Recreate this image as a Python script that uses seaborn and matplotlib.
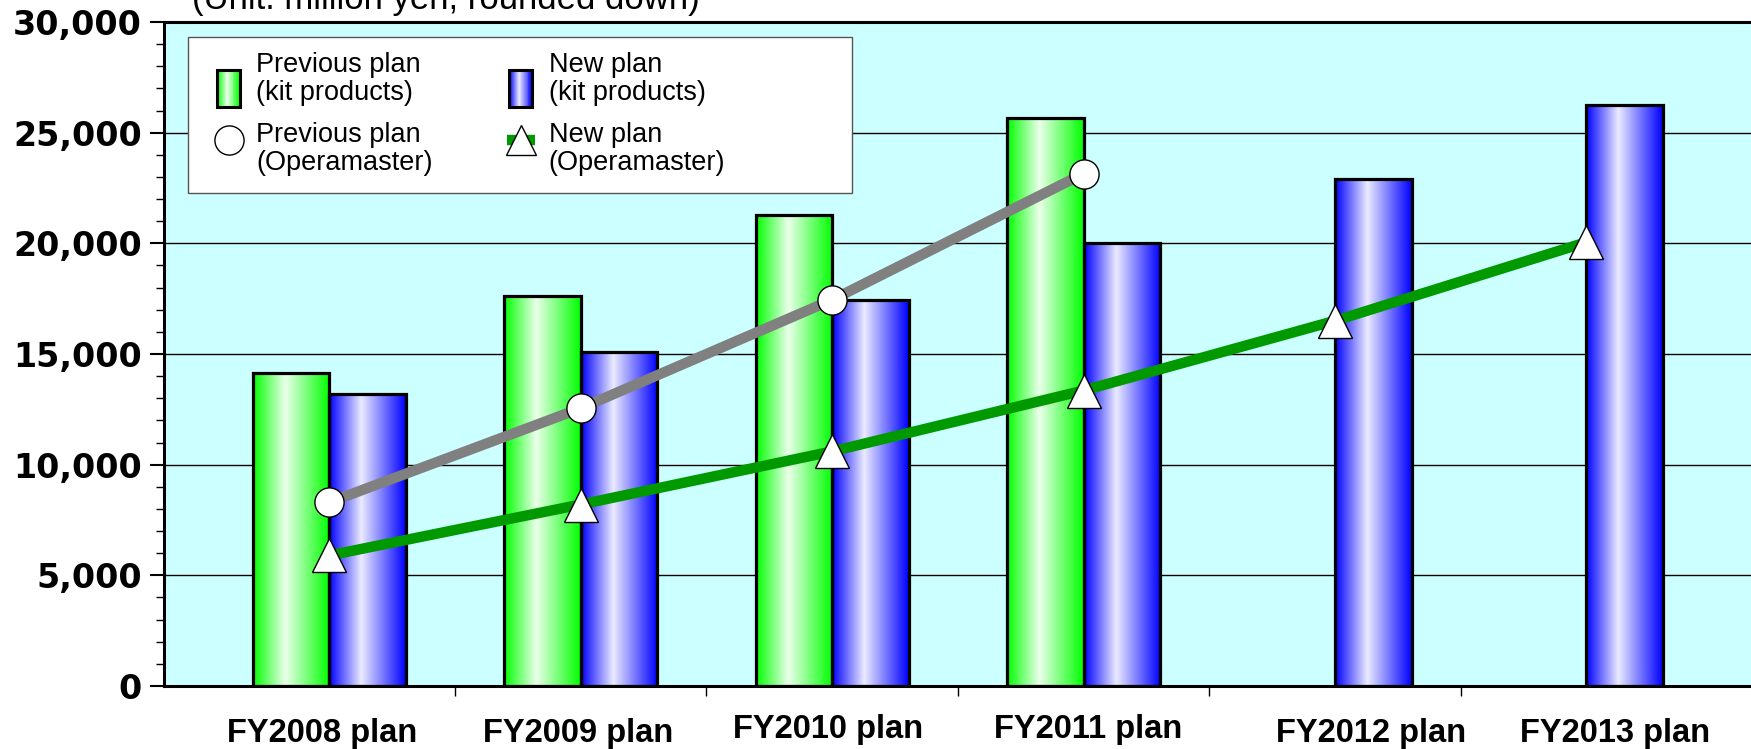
import numpy as np
import pandas as pd
import matplotlib
matplotlib.use("Agg")
import matplotlib.pyplot as plt
from matplotlib import font_manager
from matplotlib.patches import Rectangle
from matplotlib.lines import Line2D
from matplotlib.legend_handler import HandlerBase, HandlerLine2D
from matplotlib.ticker import MultipleLocator, FuncFormatter, FixedLocator
import seaborn as sns

# ---- data (million yen) ----
categories = ["FY2008 plan", "FY2009 plan", "FY2010 plan",
              "FY2011 plan", "FY2012 plan", "FY2013 plan"]
prev_kit = [14150, 17600, 21300, 25650]
new_kit = [13200, 15100, 17450, 20000, 22900, 26250]
prev_opera = [8300, 12550, 17450, 23150]
new_opera = [5900, 8200, 10600, 13350, 16500, 20050]

label_prev_kit = "Previous plan\n(kit products)"
label_new_kit = "New plan\n(kit products)"
label_prev_opera = "Previous plan\n(Operamaster)"
label_new_opera = "New plan\n(Operamaster)"
unit_note = "(Unit: million yen, rounded down)"

GREEN = "#00ff00"
BLUE = "#0000ff"
GREY_LINE = "#808080"
GREEN_LINE = "#009900"
BG = "#ccffff"

sns.set_theme(style="white")
installed = {f.name for f in font_manager.fontManager.ttflist}
SANS = next((n for n in ["Liberation Sans Narrow", "Liberation Sans"] if n in installed),
            "DejaVu Sans")
plt.rcParams["font.family"] = ["DejaVu Sans"]
plt.rcParams["text.color"] = "black"
plt.rcParams["xtick.color"] = "black"
plt.rcParams["ytick.color"] = "black"
plt.rcParams["xtick.labelcolor"] = "black"
plt.rcParams["ytick.labelcolor"] = "black"

bars = pd.concat([
    pd.DataFrame({"category": categories[:len(prev_kit)], "plan": "Previous", "value": prev_kit}),
    pd.DataFrame({"category": categories, "plan": "New", "value": new_kit}),
], ignore_index=True)

fig = plt.figure(figsize=(17.51, 7.49), dpi=100)
ax = fig.add_axes([164 / 1751, 1 - 686 / 749, 1 - 164 / 1751, (686 - 22) / 749])
ax.set_facecolor(BG)

sns.barplot(data=bars, x="category", y="value", hue="plan",
            order=categories, hue_order=["Previous", "New"],
            palette={"Previous": GREEN, "New": BLUE},
            width=0.61, gap=0, dodge=True, legend=False,
            edgecolor="black", linewidth=2.3, errorbar=None, ax=ax, zorder=2)


def shade(base, n=256, peak=0.42, top=0.92):
    """Cylinder-like shading: saturated edges, bright highlight left of centre."""
    t = np.linspace(0, 1, n)
    w = np.where(t < peak, t / peak, (1 - t) / (1 - peak)) * top
    base = np.array(matplotlib.colors.to_rgb(base))
    rgb = base[None, :] * (1 - w[:, None]) + w[:, None]
    return rgb[None, :, :]


for container, base in zip(ax.containers, [GREEN, BLUE]):
    img = shade(base)
    for patch in container.patches:
        h = patch.get_height()
        if not np.isfinite(h) or h == 0:
            continue
        x0, w = patch.get_x(), patch.get_width()
        im = ax.imshow(img, extent=[x0, x0 + w, 0, h], aspect="auto",
                       origin="lower", zorder=1.9, interpolation="bilinear")
        im.set_clip_path(patch)
        patch.set_facecolor("none")

line_kw = dict(markerfacecolor="white", markeredgecolor="black",
               markeredgewidth=1.0, errorbar=None)
sns.pointplot(x=categories[:len(prev_opera)], y=prev_opera, order=categories,
              color=GREY_LINE, markers="o", linewidth=7.5, markersize=21,
              ax=ax, zorder=3, **line_kw)
sns.pointplot(x=categories, y=new_opera, order=categories,
              color=GREEN_LINE, markers="^", linewidth=7.5, markersize=24,
              ax=ax, zorder=3, **line_kw)

# ---- axes styling ----
ax.set_xlim(-0.658, 5.655)
ax.set_ylim(0, 30000)
ax.set_xlabel("")
ax.set_ylabel("")
ax.set_axisbelow(True)
ax.yaxis.set_major_locator(MultipleLocator(5000))
ax.yaxis.set_minor_locator(MultipleLocator(1000))
ax.yaxis.set_major_formatter(FuncFormatter(lambda v, p: f"{int(v):,}"))
ax.grid(axis="y", which="major", color="black", linewidth=1.0, zorder=0.5)
ax.grid(axis="x", visible=False)

# category captions; the last two sit under their single bar
caption_pos = [-0.03, 0.99, 1.985, 3.02, 4.145, 5.115]
ax.set_xticks(caption_pos)
ax.set_xticklabels(categories, fontfamily=SANS, fontweight="bold", fontsize=23.5,
                   color="black")
ax.xaxis.set_minor_locator(FixedLocator([0.5, 1.5, 2.5, 3.5, 4.5]))
ax.tick_params(axis="x", which="major", length=0, pad=23)
ax.tick_params(axis="x", which="minor", length=7, width=1, color="black",
               direction="out", bottom=True)
ax.tick_params(axis="y", which="major", length=10, width=1.5, color="black",
               direction="out", left=True, pad=6, labelsize=24, labelcolor="black")
ax.tick_params(axis="y", which="minor", length=6, width=1, color="black",
               direction="out", left=True)
for lab in ax.get_yticklabels():
    lab.set_fontweight("bold")
for i in (2, 3):
    ax.get_xticklabels()[i].set_y(0.006)

for side in ("left", "bottom", "top"):
    ax.spines[side].set_visible(True)
    ax.spines[side].set_color("black")
    ax.spines[side].set_linewidth(2.2)
ax.spines["right"].set_visible(False)


# ---- legend ----
class ShadedBarHandler(HandlerBase):
    def __init__(self, base):
        super().__init__()
        self.base = base

    def create_artists(self, legend, orig_handle, xdescent, ydescent,
                       width, height, fontsize, trans):
        hh = 1.36 * fontsize
        y0 = height / 2 - hh / 2 - ydescent - 0.33 * fontsize
        x0 = -xdescent
        cols = shade(self.base, n=24)[0]
        arts = []
        for k, c in enumerate(cols):
            arts.append(Rectangle((x0 + width * k / len(cols), y0), width / len(cols), hh,
                                  facecolor=c, edgecolor="none", transform=trans))
        arts.append(Rectangle((x0, y0), width, hh, facecolor="none",
                              edgecolor="black", linewidth=2.2, transform=trans))
        return arts


class RaisedLineHandler(HandlerLine2D):
    """Line/marker legend key lifted towards the first text line, with a fixed-length line."""

    def __init__(self, lift, seg=None, **kw):
        super().__init__(**kw)
        self.lift = lift
        self.seg = seg

    def create_artists(self, legend, orig_handle, xdescent, ydescent,
                       width, height, fontsize, trans):
        arts = super().create_artists(legend, orig_handle, xdescent, ydescent,
                                      width, height, fontsize, trans)
        for a in arts:
            xd = np.asarray(a.get_xdata(), float)
            yd = np.asarray(a.get_ydata(), float) + self.lift * fontsize
            if self.seg is not None and len(xd) == 3:
                xc = xd[1]
                half = self.seg * fontsize / 2
                xd = np.array([xc - half, xc, xc + half])
            a.set_data(xd, yd)
        return arts


# white box framing the legend
ax.add_patch(Rectangle((0.0151, 0.7425), 0.4184, 0.2349, transform=ax.transAxes,
                       facecolor="white", edgecolor="#555555", linewidth=1.0,
                       zorder=4.5))

h_prev_kit = Rectangle((0, 0), 1, 1)
h_new_kit = Rectangle((0, 0), 1, 1)
h_prev_op = Line2D([], [], linestyle="none", marker="o", markersize=21,
                   markerfacecolor="white", markeredgecolor="black", markeredgewidth=1)
h_new_op = Line2D([], [], color=GREEN_LINE, linewidth=7.5, solid_capstyle="butt",
                  marker="^", markersize=22,
                  markerfacecolor="white", markeredgecolor="black", markeredgewidth=1)

FS = 19.5
leg = ax.legend([h_prev_kit, h_prev_op, h_new_kit, h_new_op],
                [label_prev_kit, label_prev_opera, label_new_kit, label_new_opera],
                handler_map={h_prev_kit: ShadedBarHandler(GREEN),
                             h_new_kit: ShadedBarHandler(BLUE),
                             h_prev_op: RaisedLineHandler(0.35),
                             h_new_op: RaisedLineHandler(0.35, seg=1.05)},
                ncol=2, loc="upper left", bbox_to_anchor=(0.0335, 0.955),
                prop={"family": SANS, "size": FS},
                frameon=False,
                handlelength=0.85, handletextpad=0.6, columnspacing=2.82,
                labelspacing=0.6, borderpad=0, borderaxespad=0)
for t in leg.get_texts():
    t.set_linespacing(1.1)
    t.set_color("black")
leg.set_zorder(5)

fig.text(192 / 1751, 1 - 9 / 749, unit_note, fontfamily=SANS, fontsize=25,
         ha="left", va="baseline", color="black")

fig.savefig("out.png", dpi=100, facecolor="white")
